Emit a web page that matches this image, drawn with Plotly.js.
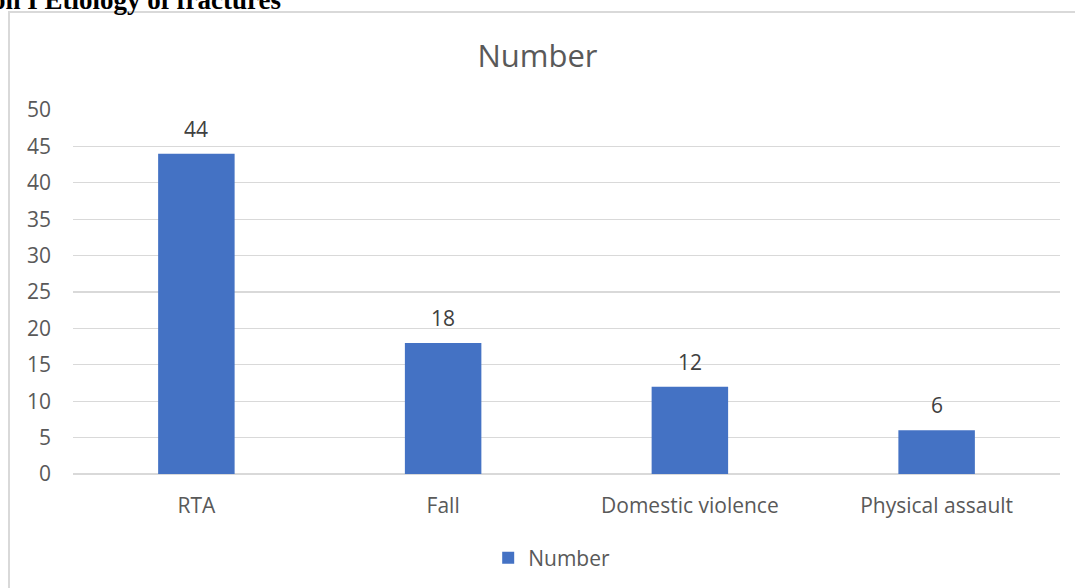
<!DOCTYPE html>
<html>
<head>
<meta charset="utf-8">
<script src="https://cdn.plot.ly/plotly-3.0.1.min.js"></script>
<style>
  html, body { margin: 0; padding: 0; background: #fff; overflow: hidden; }
  #frame { position: absolute; left: 8px; top: 11px; width: 1200px; height: 700px;
           border-left: 2px solid #d9d9d9; border-top: 2px solid #d9d9d9; }
  #caption { position: absolute; left: -8px; top: -13px; line-height: 27px;
             font-family: "Liberation Serif", "Times New Roman", serif;
             font-weight: bold; font-size: 27px; color: #000; white-space: nowrap; }
  #chart { position: absolute; left: 0; top: 0; width: 1075px; height: 588px; }
</style>
</head>
<body>
<div id="frame"></div>
<div id="chart"></div>
<div id="caption">on I Etiology of fractures</div>
<script>
const categories = ["RTA", "Fall", "Domestic violence", "Physical assault"];
const numberValues = [44, 18, 12, 6];
const seriesName = "Number";
const yTicks = [0, 5, 10, 15, 20, 25, 30, 35, 40, 45, 50];

const fontFam = "'Open Sans', 'Noto Sans', sans-serif";

const trace = {
  type: "bar",
  x: categories,
  y: numberValues,
  name: seriesName,
  marker: { color: "#4472c4" },
  showlegend: true,
  hoverinfo: "x+y"
};

const annotations = categories.map((c, i) => ({
  x: c, y: numberValues[i], xref: "x", yref: "y",
  text: String(numberValues[i]), showarrow: false,
  yanchor: "bottom", yshift: 9,
  font: { family: fontFam, size: 21, color: "#404040" }
}));

const layout = {
  width: 1075, height: 588,
  margin: { l: 73, r: 15, t: 110, b: 114, autoexpand: false },
  paper_bgcolor: "rgba(0,0,0,0)",
  plot_bgcolor: "rgba(0,0,0,0)",
  title: { text: seriesName, x: 0.5, xanchor: "center", y: 0.905, yanchor: "middle",
           font: { family: fontFam, size: 31, color: "#595959" } },
  bargap: 0.69,
  xaxis: {
    type: "category", automargin: false,
    tickfont: { family: fontFam, size: 21, color: "#595959" },
    ticks: "", showline: false, showgrid: false, zeroline: false,
    ticklabelstandoff: 17
  },
  yaxis: {
    range: [0, 50], tickvals: yTicks, ticktext: yTicks.map(String), automargin: false,
    tickfont: { family: fontFam, size: 21, color: "#595959" },
    gridcolor: "#d9d9d9", gridwidth: 1.3, zeroline: true, zerolinecolor: "#d9d9d9", zerolinewidth: 1.3,
    showline: false, ticks: "", ticklabelstandoff: 21, fixedrange: true
  },
  legend: {
    orientation: "h", x: 0.485, xanchor: "center", y: -0.231, yanchor: "middle",
    font: { family: fontFam, size: 21, color: "#595959" },
    itemwidth: 30
  },
  annotations: annotations
};

Plotly.newPlot("chart", [trace], layout, { displayModeBar: false, staticPlot: true });
</script>
</body>
</html>
